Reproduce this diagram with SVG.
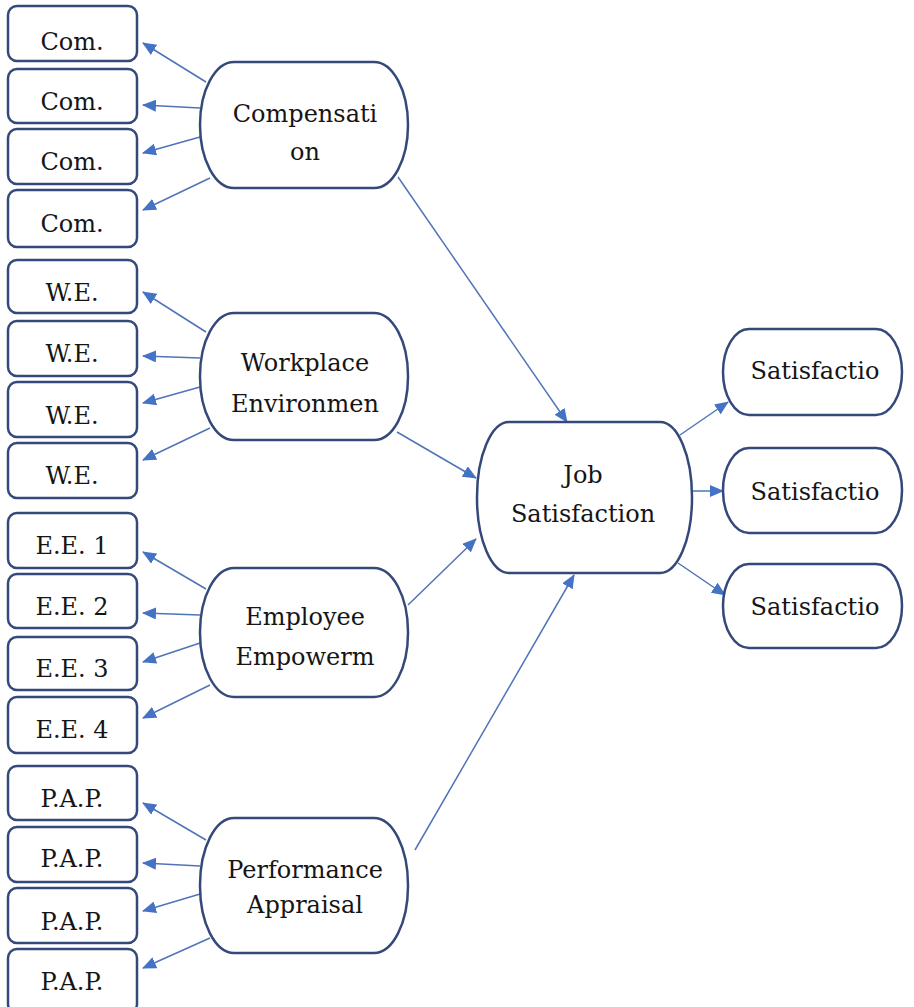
<svg xmlns="http://www.w3.org/2000/svg" width="914" height="1007" viewBox="0 0 914 1007">
<defs>
<marker id="ah" markerWidth="14" markerHeight="12" refX="13" refY="6" orient="auto" markerUnits="userSpaceOnUse">
<path d="M0,0 L14,6 L0,12 Z" fill="#4472C4"/>
</marker>
</defs>
<style>
.box{fill:#fff;stroke:#34497A;stroke-width:2.5}
.c{stroke:#4F74B8;stroke-width:1.5;fill:none;marker-end:url(#ah)}
</style>
<rect width="914" height="1007" fill="#fff"/>
<g id="connectors">
<line class="c" x1="206" y1="82" x2="143" y2="43"/>
<line class="c" x1="200" y1="108" x2="143" y2="105"/>
<line class="c" x1="200" y1="137" x2="143" y2="153"/>
<line class="c" x1="210" y1="178" x2="143" y2="210"/>
<line class="c" x1="206" y1="332" x2="143" y2="292"/>
<line class="c" x1="200" y1="358" x2="143" y2="356"/>
<line class="c" x1="200" y1="387" x2="143" y2="403"/>
<line class="c" x1="210" y1="428" x2="143" y2="460"/>
<line class="c" x1="206" y1="589" x2="143" y2="552"/>
<line class="c" x1="200" y1="615" x2="143" y2="613"/>
<line class="c" x1="200" y1="643" x2="143" y2="662"/>
<line class="c" x1="210" y1="685" x2="143" y2="718"/>
<line class="c" x1="206" y1="840" x2="143" y2="803"/>
<line class="c" x1="200" y1="866" x2="143" y2="863"/>
<line class="c" x1="200" y1="894" x2="143" y2="911"/>
<line class="c" x1="210" y1="938" x2="143" y2="968"/>
<line class="c" x1="398" y1="177" x2="567" y2="422"/>
<line class="c" x1="397" y1="432" x2="476" y2="478"/>
<line class="c" x1="408" y1="605" x2="476" y2="539"/>
<line class="c" x1="415" y1="850" x2="574" y2="575"/>
<line class="c" x1="680" y1="435" x2="728" y2="402"/>
<line class="c" x1="693" y1="491" x2="723" y2="491"/>
<line class="c" x1="678" y1="563" x2="725" y2="595"/>
</g>
<g font-family="DejaVu Serif" font-size="24" fill="#151515" text-anchor="middle">
<g id="com1"><rect class="box" x="8" y="6" width="129" height="55" rx="9"/><text x="72" y="50">Com.</text></g>
<g id="com2"><rect class="box" x="8" y="69" width="129" height="54" rx="9"/><text x="72" y="110">Com.</text></g>
<g id="com3"><rect class="box" x="8" y="129" width="129" height="55" rx="9"/><text x="72" y="170">Com.</text></g>
<g id="com4"><rect class="box" x="8" y="190" width="129" height="57" rx="9"/><text x="72" y="232">Com.</text></g>
<g id="we1"><rect class="box" x="8" y="260" width="129" height="53" rx="9"/><text x="72" y="301">W.E.</text></g>
<g id="we2"><rect class="box" x="8" y="321" width="129" height="55" rx="9"/><text x="72" y="362">W.E.</text></g>
<g id="we3"><rect class="box" x="8" y="382" width="129" height="55" rx="9"/><text x="72" y="424">W.E.</text></g>
<g id="we4"><rect class="box" x="8" y="443" width="129" height="55" rx="9"/><text x="72" y="484">W.E.</text></g>
<g id="ee1"><rect class="box" x="8" y="513" width="129" height="55" rx="9"/><text x="72" y="554">E.E. 1</text></g>
<g id="ee2"><rect class="box" x="8" y="574" width="129" height="54" rx="9"/><text x="72" y="615">E.E. 2</text></g>
<g id="ee3"><rect class="box" x="8" y="637" width="129" height="53" rx="9"/><text x="72" y="677">E.E. 3</text></g>
<g id="ee4"><rect class="box" x="8" y="697" width="129" height="56" rx="9"/><text x="72" y="738">E.E. 4</text></g>
<g id="pap1"><rect class="box" x="8" y="766" width="129" height="54" rx="9"/><text x="72" y="807">P.A.P.</text></g>
<g id="pap2"><rect class="box" x="8" y="827" width="129" height="55" rx="9"/><text x="72" y="867">P.A.P.</text></g>
<g id="pap3"><rect class="box" x="8" y="888" width="129" height="55" rx="9"/><text x="72" y="930">P.A.P.</text></g>
<g id="pap4"><rect class="box" x="8" y="949" width="129" height="64" rx="9"/><text x="72" y="990">P.A.P.</text></g>
<g id="compensation"><rect class="box" x="200" y="62" width="208" height="126" rx="34" ry="63"/><text x="305" y="122">Compensati</text><text x="305" y="160">on</text></g>
<g id="workplace"><rect class="box" x="200" y="313" width="208" height="127" rx="34" ry="63"/><text x="305" y="371">Workplace</text><text x="305" y="412">Environmen</text></g>
<g id="empowerment"><rect class="box" x="200" y="568" width="208" height="129" rx="34" ry="64"/><text x="305" y="625">Employee</text><text x="305" y="665">Empowerm</text></g>
<g id="appraisal"><rect class="box" x="200" y="818" width="208" height="135" rx="34" ry="67"/><text x="305" y="878">Performance</text><text x="305" y="913">Appraisal</text></g>
<g id="job"><rect class="box" x="477" y="422" width="215" height="151" rx="32" ry="75"/><text x="583" y="483">Job</text><text x="583" y="522">Satisfaction</text></g>
<g id="sat1"><rect class="box" x="723" y="329" width="179" height="86" rx="26" ry="43"/><text x="815" y="379">Satisfactio</text></g>
<g id="sat2"><rect class="box" x="723" y="448" width="179" height="85" rx="26" ry="42"/><text x="815" y="500">Satisfactio</text></g>
<g id="sat3"><rect class="box" x="723" y="564" width="179" height="84" rx="26" ry="42"/><text x="815" y="615">Satisfactio</text></g>
</g>
</svg>
